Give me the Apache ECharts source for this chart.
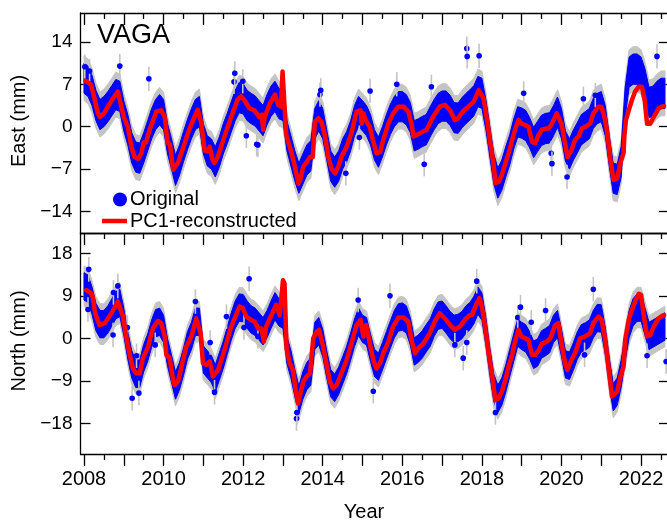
<!DOCTYPE html>
<html>
<head>
<meta charset="utf-8">
<script src="https://cdn.jsdelivr.net/npm/echarts@6/dist/echarts.min.js"></script>
<style>html,body{margin:0;padding:0;background:#fff}#chart{width:667px;height:520px}</style>
</head>
<body>
<div id="chart"></div>
<script>
// ---------- DATA ----------
const stationName = 'VAGA';
const sampleStart = 2008.0;   // first sample time of the blue (original) band
const sampleStep = 0.1;       // years between band samples

// Centre of the cloud of original daily positions, East (mm), 2008.0 ... 2022.6
const eastBlue = [
  8.0, 7.5, 6.0, 3.5, 2.0, 2.5, 3.3, 4.3, 5.3, 5.0,
  1.8, -0.5, -3.5, -5.0, -5.2, -3.5, -1.5, 0.5, 2.0, 2.8,
  2.0, -2.0, -4.5, -7.2, -5.5, -3.3, -1.3, 0.5, 2.0, 2.5,
  -2.0, -4.0, -4.5, -5.8, -4.2, -2.0, -0.3, 1.6, 3.5, 4.8,
  4.6, 3.5, 3.0, 2.6, 1.8, 1.0, 2.8, 4.2, 5.0, 3.8,
  3.5, -1.5, -4.0, -6.5, -8.5, -7.0, -5.5, -4.8, 0.5, 1.8,
  0.5, -3.0, -6.5, -7.5, -6.5, -4.5, -3.3, -1.5, 1.0, 2.5,
  1.8, 1.0, -0.5, -3.0, -4.2, -2.5, -0.5, 1.2, 2.5, 3.3,
  3.3, 2.8, 1.5, -1.5, -1.2, -0.8, -0.5, 0.8, 2.0, 3.0,
  3.4, 3.4, 2.7, 1.5, 1.4, 2.3, 3.0, 3.6, 4.3, 5.8,
  5.5, 2.0, -2.5, -7.0, -9.3, -8.0, -5.8, -3.8, -1.2, 0.8,
  0.6, 0.2, -1.0, -2.6, -1.6, -0.6, -0.3, -0.2, 1.0, 2.4,
  0.5, -3.2, -4.5, -3.0, -1.8, -0.5, 0.0, 0.5, 2.2, 3.0,
  3.3, 1.0, -4.0, -8.5, -8.7, -5.8, 4.0, 9.0, 9.5, 9.5,
  9.0, 7.0, 4.0, 4.2, 5.0, 5.5, 5.5
];
// Centre of the cloud of original daily positions, North (mm), 2008.0 ... 2022.6
const northBlue = [
  11.0, 10.5, 8.0, 4.5, 3.0, 3.0, 4.0, 5.5, 7.0, 7.5,
  3.5, -1.5, -5.5, -7.5, -7.5, -4.2, -2.0, 1.0, 3.2, 3.5,
  2.0, -3.0, -6.5, -10.0, -8.0, -5.0, -1.5, 0.5, 3.5, 3.5,
  -4.5, -5.5, -6.5, -8.5, -6.0, -3.5, -0.5, 2.5, 5.0, 6.5,
  6.4, 5.0, 4.0, 3.5, 2.5, 1.5, 3.0, 5.0, 6.8, 5.5,
  5.0, -2.5, -5.5, -9.5, -13.0, -10.0, -8.0, -7.0, 0.5, 1.5,
  -1.0, -5.5, -9.5, -10.5, -9.0, -6.8, -4.6, -1.8, 1.2, 3.5,
  2.0, 1.5, -2.0, -5.2, -6.0, -3.8, -1.5, 0.8, 3.0, 4.4,
  4.6, 4.0, 1.5, -2.8, -2.2, -1.3, 0.0, 1.2, 3.3, 4.8,
  5.0, 4.0, 2.8, 2.0, 2.2, 2.8, 4.0, 4.7, 6.0, 8.0,
  6.7, 1.5, -5.0, -10.5, -12.8, -11.3, -8.5, -5.2, -2.0, 1.2,
  0.5, 0.0, -1.5, -3.5, -3.0, -1.3, -0.8, -0.2, 2.0, 3.0,
  -1.0, -5.5, -5.8, -3.8, -1.5, 0.0, 0.4, 1.0, 3.0, 4.3,
  4.2, -0.5, -7.0, -12.5, -11.3, -7.5, -2.0, 3.0, 5.5, 6.5,
  6.5, 3.5, 0.5, 1.0, 1.5, 2.0, 2.5
];
// Half-spread of the original cloud and of its error bars (mm)
const eastSpread = 2.5, eastErrSpread = 3.7;
const northSpread = 2.9, northErrSpread = 4.3;
const eastDotErr = 2.0, northDotErr = 2.6;

// Isolated original points (outliers) with error bars
const eastOutYears = [2008.02,2008.14,2008.90,2009.63,2011.77,2011.79,2011.99,2012.08,2012.34,2012.37,2013.93,2013.95,2014.58,2014.92,2015.19,2015.86,2016.55,2016.73,2017.62,2017.63,2017.93,2019.05,2019.74,2019.76,2020.14,2020.55,2020.85,2022.40];
const eastOutMm    = [9.9,9.2,10.0,7.9,7.4,8.8,7.5,-1.5,-2.9,-3.0,5.3,6.0,-7.7,-1.8,5.9,7.0,-6.2,6.6,12.9,11.6,11.7,5.5,-4.4,-6.1,-8.3,4.6,5.2,11.6];
const northOutYears = [2008.10,2008.12,2008.73,2008.74,2008.85,2009.09,2009.21,2009.32,2009.38,2009.79,2010.80,2011.17,2011.28,2011.58,2012.02,2012.15,2012.37,2013.34,2013.35,2014.89,2015.27,2015.69,2017.32,2017.53,2017.62,2017.87,2018.34,2018.90,2018.97,2019.24,2019.60,2020.58,2020.80,2022.15,2022.63];
const northOutMm    = [6.1,14.6,0.7,9.7,11.1,2.3,-12.7,-3.7,-11.6,-1.4,7.8,-0.9,-11.4,4.6,2.3,12.6,0.4,-17.0,-15.7,8.1,-11.2,9.0,-1.4,-4.2,-0.9,12.1,-15.7,4.4,6.6,3.4,5.9,-3.5,10.4,-3.7,-4.9];

// PC1-reconstructed curves
const eastRedYears = [
  2008.03,2008.10,2008.18,2008.25,2008.35,2008.40,2008.50,2008.60,2008.70,2008.85,2008.90,
  2009.00,2009.10,2009.19,2009.27,2009.36,2009.44,2009.50,2009.56,2009.65,2009.82,2009.94,
  2010.03,2010.10,2010.16,2010.24,2010.28,2010.36,2010.50,2010.61,2010.74,2010.86,2010.90,2010.95,
  2011.03,2011.10,2011.16,2011.22,2011.28,2011.36,2011.53,2011.70,2011.86,2011.95,
  2012.03,2012.16,2012.28,2012.41,2012.47,2012.50,2012.54,2012.67,2012.80,2012.88,2012.95,2012.99,
  2013.04,2013.08,2013.12,2013.22,2013.30,2013.39,2013.43,2013.51,2013.60,2013.68,2013.75,2013.80,2013.89,2013.97,
  2014.06,2014.14,2014.22,2014.31,2014.39,2014.47,2014.60,2014.72,2014.85,2014.95,2014.98,
  2015.02,2015.08,2015.18,2015.26,2015.35,2015.44,2015.52,2015.65,2015.77,2015.90,
  2016.03,2016.15,2016.23,2016.28,2016.32,2016.44,2016.61,2016.77,2016.94,
  2017.07,2017.20,2017.32,2017.40,2017.53,2017.66,2017.79,2017.92,2017.96,
  2018.04,2018.13,2018.21,2018.29,2018.34,2018.42,2018.50,2018.59,2018.67,2018.76,2018.84,2018.92,
  2019.00,2019.08,2019.17,2019.26,2019.34,2019.42,2019.51,2019.60,2019.68,2019.76,2019.88,2019.92,
  2020.00,2020.09,2020.15,2020.25,2020.34,2020.43,2020.51,2020.60,2020.72,2020.80,2020.93,
  2021.00,2021.08,2021.14,2021.23,2021.31,2021.40,2021.48,2021.56,2021.58,2021.62,2021.69,2021.77,2021.85,2021.94,
  2022.02,2022.09,2022.15,2022.23,2022.32,2022.44,2022.52,2022.58
];
const eastRedMm = [
  7.6,7.3,6.9,5.0,2.2,1.6,2.2,3.3,4.4,5.8,5.5,
  1.6,0.0,-3.3,-5.0,-5.3,-4.4,-2.6,-2.6,-0.5,2.5,2.7,
  1.6,-2.7,-2.9,-7.1,-7.4,-6.0,-3.3,-1.1,1.1,2.8,2.6,0.5,
  -3.9,-4.1,-3.3,-5.2,-6.0,-5.0,-1.6,1.6,4.5,5.0,
  4.4,3.0,2.7,1.6,2.0,-0.5,1.6,3.8,5.3,3.6,3.3,9.1,
  8.8,-1.2,-2.2,-4.4,-6.6,-9.4,-8.8,-6.6,-5.8,-5.0,-5.0,0.8,1.4,0.8,
  -1.6,-5.0,-6.9,-7.7,-6.6,-5.0,-3.3,-1.1,2.5,2.7,0.5,
  2.2,1.1,0.0,-2.2,-4.4,-4.2,-2.2,0.5,2.2,3.3,
  3.3,2.5,0.5,-1.6,-1.9,-1.1,-0.5,1.6,3.3,
  3.6,2.7,1.1,1.4,2.6,3.3,4.1,6.0,6.2,
  4.7,1.1,-2.7,-6.0,-9.3,-9.1,-8.0,-6.0,-4.4,-2.2,-0.3,1.1,
  0.5,0.3,0.0,-2.5,-2.7,-1.4,-0.5,-0.3,-0.3,0.5,2.2,2.5,
  0.5,-2.7,-5.0,-3.9,-2.2,-1.6,-0.3,0.0,0.5,2.2,3.3,
  3.3,1.6,-0.5,-5.5,-8.8,-8.5,-6.0,-4.4,-1.6,1.1,2.7,4.4,5.8,6.6,
  6.6,4.4,0.5,0.5,1.6,3.0,3.3,3.4
];
const northRedYears = [
  2008.06,2008.18,2008.22,2008.28,2008.39,2008.44,2008.52,2008.69,2008.85,2008.90,2008.98,
  2009.06,2009.15,2009.23,2009.31,2009.40,2009.48,2009.52,2009.61,2009.73,2009.86,2009.94,
  2010.03,2010.07,2010.15,2010.24,2010.28,2010.36,2010.45,2010.57,2010.70,2010.82,2010.86,2010.93,2010.99,
  2011.07,2011.16,2011.24,2011.28,2011.37,2011.53,2011.70,2011.91,2011.99,
  2012.08,2012.20,2012.29,2012.37,2012.46,2012.52,2012.58,2012.71,2012.83,2012.86,2012.92,2012.96,
  2013.00,2013.04,2013.09,2013.17,2013.25,2013.32,2013.38,2013.42,2013.51,2013.59,2013.68,2013.72,2013.76,2013.85,2013.91,
  2014.01,2014.09,2014.18,2014.26,2014.35,2014.47,2014.60,2014.72,2014.85,2014.95,
  2015.02,2015.09,2015.15,2015.19,2015.27,2015.35,2015.44,2015.52,2015.65,2015.77,2015.90,
  2016.03,2016.15,2016.23,2016.32,2016.40,2016.53,2016.69,2016.81,2016.94,
  2017.07,2017.20,2017.32,2017.45,2017.57,2017.69,2017.75,2017.87,2017.94,
  2018.00,2018.08,2018.17,2018.26,2018.34,2018.42,2018.50,2018.59,2018.67,2018.76,2018.84,2018.92,2018.99,
  2019.09,2019.17,2019.26,2019.34,2019.43,2019.51,2019.63,2019.72,2019.84,2019.92,
  2020.00,2020.09,2020.15,2020.25,2020.34,2020.47,2020.60,2020.72,2020.80,2020.93,
  2021.01,2021.10,2021.18,2021.27,2021.31,2021.40,2021.48,2021.56,2021.60,2021.69,2021.77,2021.85,2021.94,
  2022.00,2022.06,2022.15,2022.23,2022.32,2022.44,2022.52,2022.58
];
const northRedMm = [
  10.2,9.5,8.8,5.3,2.8,2.5,3.2,5.3,7.8,8.0,4.6,
  0.4,-3.5,-6.4,-7.4,-7.4,-4.2,-3.5,-1.8,2.1,3.7,3.2,
  0.4,-3.5,-4.2,-8.8,-9.9,-9.2,-6.0,-1.8,0.4,4.2,4.4,1.1,-5.3,
  -5.6,-4.9,-8.1,-8.5,-6.7,-2.5,2.5,6.7,6.4,
  4.6,3.9,3.5,2.1,2.1,-0.7,2.5,4.9,7.1,7.4,4.9,4.8,
  12.3,11.6,-2.1,-5.3,-6.7,-10.9,-13.8,-12.3,-9.2,-8.1,-7.4,-7.1,0.0,1.4,1.8,
  -1.8,-5.3,-9.2,-10.6,-9.9,-7.4,-4.6,-1.1,2.8,3.9,
  0.4,2.8,0.4,-1.4,-4.6,-6.4,-5.3,-3.2,-0.7,2.5,4.4,
  4.4,3.5,-0.4,-3.2,-2.1,-1.1,1.1,3.5,5.3,
  4.2,2.8,1.8,2.5,3.9,4.9,4.9,7.4,8.5,
  6.7,2.5,-3.2,-8.1,-13.1,-12.7,-11.3,-8.8,-6.0,-3.5,-0.4,1.8,0.4,
  0.0,-0.4,-3.5,-3.5,-2.5,-1.1,-0.7,0.0,2.8,3.2,
  -1.1,-5.3,-6.7,-4.6,-3.2,0.0,0.4,1.1,3.2,4.6,
  3.9,-0.4,-6.0,-12.3,-12.7,-11.3,-8.1,-6.0,-0.4,3.9,6.0,7.8,9.4,
  9.2,5.3,0.4,0.7,2.5,4.2,4.7,4.9
];

// Axis ticks and labels
const yearTicks = [2008,2009,2010,2011,2012,2013,2014,2015,2016,2017,2018,2019,2020,2021,2022];
const halfYearTicks = [2008.5,2009.5,2010.5,2011.5,2012.5,2013.5,2014.5,2015.5,2016.5,2017.5,2018.5,2019.5,2020.5,2021.5,2022.5];
const yearLabels = [2008,2010,2012,2014,2016,2018,2020,2022];
const eastTicks = [-14,-7,0,7,14];
const northTicks = [-18,-9,0,9,18];
const eastRange = [-17.54, 18.76];
const northRange = [-24.5, 22.3];
const yearRange = [2007.912, 2022.702];

// ---------- CHART ----------
const FONT = '"Liberation Sans", Arial, Helvetica, sans-serif';
const BLACK = '#000';
const BLUE = '#0000ff';
const RED = '#ff0000';
const GRAY = '#c4c4c4';

const sampleYears = eastBlue.map((_, i) => Math.round((sampleStart + i * sampleStep) * 100) / 100);
const zip = (a, b) => a.slice(0, Math.min(a.length, b.length)).map((v, i) => [v, b[i]]);

function xAx(grid, pos, ticks, len, showLine, labels) {
  return {
    type: 'value', gridIndex: grid, position: pos, min: yearRange[0], max: yearRange[1],
    axisLine: { show: showLine, onZero: false, lineStyle: { color: BLACK, width: 1.3 } },
    axisTick: ticks ? { show: true, inside: pos === 'top', length: len, customValues: ticks, lineStyle: { color: BLACK, width: 1.3 } } : { show: false },
    axisLabel: labels ? { show: true, customValues: labels, formatter: v => String(Math.round(v)), fontSize: 20, fontFamily: FONT, color: BLACK, margin: 15 } : { show: false },
    splitLine: { show: false }
  };
}
function yAx(grid, pos, range, ticks, showLabels) {
  return {
    type: 'value', gridIndex: grid, position: pos, min: range[0], max: range[1],
    axisLine: { show: true, onZero: false, lineStyle: { color: BLACK, width: 1.3 } },
    axisTick: { show: true, inside: true, length: 10, customValues: ticks, lineStyle: { color: BLACK, width: 1.3 } },
    axisLabel: showLabels ? { show: true, customValues: ticks, formatter: v => (v < 0 ? '\u2212' + Math.abs(v) : String(v)), fontSize: 19, fontFamily: FONT, color: BLACK, margin: 8 } : { show: false },
    splitLine: { show: false }
  };
}

// Band of the original cloud: polygon through mid+half (forward) and mid-half (backward)
function bandSeries(mid, half, color, xi, yi, z) {
  return {
    type: 'custom', xAxisIndex: xi, yAxisIndex: yi, z: z, silent: true, clip: true,
    data: [[sampleYears[0], mid[0]]],
    encode: { x: 0, y: 1 },
    renderItem: (params, api) => {
      const n = Math.min(sampleYears.length, mid.length);
      const pts = [];
      for (let i = 0; i < n; i++) pts.push(api.coord([sampleYears[i], mid[i] + half]));
      for (let i = n - 1; i >= 0; i--) pts.push(api.coord([sampleYears[i], mid[i] - half]));
      return { type: 'polygon', shape: { points: pts }, style: { fill: color, stroke: color, lineWidth: 1 } };
    }
  };
}
function outlierSeries(years, vals, err, xi, yi) {
  return {
    type: 'custom', xAxisIndex: xi, yAxisIndex: yi, z: 3, silent: true, clip: true,
    data: zip(years, vals),
    encode: { x: 0, y: 1 },
    renderItem: (params, api) => {
      const t = api.value(0), v = api.value(1);
      const a = api.coord([t, v + err]), b = api.coord([t, v - err]), c = api.coord([t, v]);
      return { type: 'group', children: [
        { type: 'line', shape: { x1: a[0], y1: a[1], x2: b[0], y2: b[1] }, style: { stroke: GRAY, lineWidth: 1.6 } },
        { type: 'circle', shape: { cx: c[0], cy: c[1], r: 2.8 }, style: { fill: BLUE } }
      ] };
    }
  };
}
function redSeries(years, vals, xi, yi) {
  return { type: 'line', name: 'PC1-reconstructed', xAxisIndex: xi, yAxisIndex: yi, z: 4,
    data: zip(years, vals), symbol: 'none', showSymbol: false,
    lineStyle: { color: RED, width: 4.5, join: 'round', cap: 'round' } };
}

const chart = echarts.init(document.getElementById('chart'), null, { renderer: 'canvas' });
chart.setOption({
  animation: false,
  backgroundColor: '#fff',
  grid: [
    { left: 80.5, top: 13, width: 588.5, height: 220, outerBoundsMode: 'none', containLabel: false },
    { left: 80.5, top: 233, width: 588.5, height: 221, outerBoundsMode: 'none', containLabel: false }
  ],
  xAxis: [
    xAx(0, 'top', yearTicks, 12, true, null),
    xAx(0, 'top', halfYearTicks, 6, false, null),
    xAx(0, 'bottom', null, 0, true, null),
    xAx(1, 'top', yearTicks, 12, true, null),
    xAx(1, 'top', halfYearTicks, 6, false, null),
    xAx(1, 'bottom', yearTicks, 12, true, yearLabels),
    xAx(1, 'bottom', halfYearTicks, 6, false, null)
  ],
  yAxis: [
    yAx(0, 'left', eastRange, eastTicks, true),
    yAx(0, 'right', eastRange, eastTicks, false),
    yAx(1, 'left', northRange, northTicks, true),
    yAx(1, 'right', northRange, northTicks, false)
  ],
  series: [
    bandSeries(eastBlue, eastErrSpread, GRAY, 2, 0, 1),
    bandSeries(eastBlue, eastSpread, BLUE, 2, 0, 2),
    outlierSeries(eastOutYears, eastOutMm, eastDotErr, 2, 0),
    redSeries(eastRedYears, eastRedMm, 2, 0),
    bandSeries(northBlue, northErrSpread, GRAY, 5, 2, 1),
    bandSeries(northBlue, northSpread, BLUE, 5, 2, 2),
    outlierSeries(northOutYears, northOutMm, northDotErr, 5, 2),
    redSeries(northRedYears, northRedMm, 5, 2)
  ],
  graphic: [
    { type: 'text', x: 97, y: 36, style: { text: stationName, fontSize: 27, fontFamily: FONT, fill: BLACK, align: 'left', verticalAlign: 'middle' } },
    { type: 'circle', shape: { cx: 120, cy: 199.5, r: 7 }, style: { fill: BLUE } },
    { type: 'text', x: 130, y: 199.5, style: { text: 'Original', fontSize: 20, fontFamily: FONT, fill: BLACK, align: 'left', verticalAlign: 'middle' } },
    { type: 'line', shape: { x1: 102, y1: 221, x2: 127, y2: 221 }, style: { stroke: RED, lineWidth: 4.5 } },
    { type: 'text', x: 130, y: 221, style: { text: 'PC1-reconstructed', fontSize: 20, fontFamily: FONT, fill: BLACK, align: 'left', verticalAlign: 'middle' } },
    { type: 'text', x: 19.5, y: 121, rotation: Math.PI / 2, style: { text: 'East (mm)', fontSize: 20, fontFamily: FONT, fill: BLACK, align: 'center', verticalAlign: 'middle' } },
    { type: 'text', x: 19.5, y: 341, rotation: Math.PI / 2, style: { text: 'North (mm)', fontSize: 20, fontFamily: FONT, fill: BLACK, align: 'center', verticalAlign: 'middle' } },
    { type: 'text', x: 364, y: 512, style: { text: 'Year', fontSize: 20, fontFamily: FONT, fill: BLACK, align: 'center', verticalAlign: 'middle' } }
  ]
});
</script>
</body>
</html>
